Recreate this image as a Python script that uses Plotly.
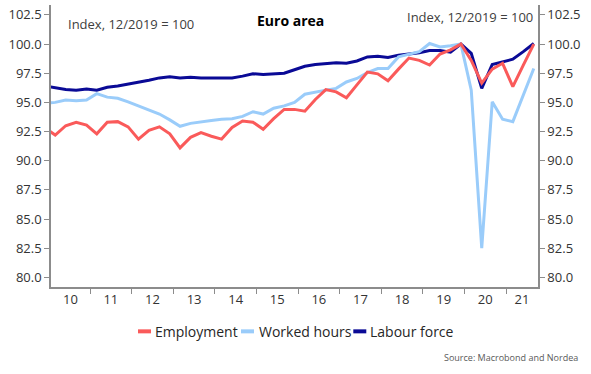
import pandas as pd
import plotly.graph_objects as go

# ---------------- data ----------------
quarters = [str(p) for p in pd.period_range("2009Q4", "2021Q3", freq="Q")]

employment = [92.8, 92.2, 93.0, 93.3, 93.05, 92.3, 93.3, 93.35, 92.9, 91.85,
              92.6, 92.9, 92.3, 91.1, 92.0, 92.4, 92.1, 91.85, 92.85, 93.4,
              93.3, 92.7, 93.6, 94.4, 94.4, 94.25, 95.25, 96.1, 95.9, 95.4,
              96.5, 97.6, 97.45, 96.85, 97.85, 98.8, 98.6, 98.2, 99.15, 99.5,
              100.0, 98.6, 96.65, 97.85, 98.35, 96.35, 98.2, 100.0]

worked_hours = [94.9, 95.0, 95.2, 95.15, 95.2, 95.75, 95.45, 95.35, 95.05, 94.7,
                94.3, 94.0, 93.5, 92.95, 93.2, 93.35, 93.45, 93.55, 93.6, 93.8,
                94.2, 94.0, 94.5, 94.7, 95.0, 95.7, 95.9, 96.05, 96.2, 96.75,
                97.05, 97.55, 97.9, 97.9, 98.9, 99.15, 99.35, 100.05, 99.75, 99.85,
                100.0, 96.05, 82.5, 95.05, 93.55, 93.35, 95.6, 97.9]

labour_force = [96.4, 96.25, 96.1, 96.05, 96.15, 96.05, 96.3, 96.4, 96.55, 96.7,
                96.9, 97.1, 97.2, 97.1, 97.15, 97.1, 97.1, 97.05, 97.1, 97.25,
                97.45, 97.4, 97.45, 97.5, 97.8, 98.1, 98.25, 98.35, 98.4, 98.35,
                98.55, 98.9, 98.95, 98.85, 99.05, 99.15, 99.25, 99.45, 99.45, 99.3,
                100.0, 99.2, 96.2, 98.25, 98.45, 98.7, 99.35, 100.05]

series_names = ["Employment", "Worked hours", "Labour force"]
years = list(range(2010, 2022))
year_labels = ["10", "11", "12", "13", "14", "15", "16", "17", "18", "19", "20", "21"]
y_ticks = [80.0, 82.5, 85.0, 87.5, 90.0, 92.5, 95.0, 97.5, 100.0, 102.5]

# ---------------- styling ----------------
FONT = "Open Sans"
RED = "#FA5A5A"
LIGHT = "#9ACCFA"
NAVY = "#0A0A96"
AXIS = "#8C8C8C"
TXT = "#404040"

W, H = 591, 374
PL, PR, PT, PB = 51, 538, 5, 286.7   # plot area in pixels


def px(x):
    return (x - PL) / (PR - PL)


def py(y):
    return (PB - y) / (PB - PT)


dates = [pd.Period(q, freq="Q").start_time + pd.DateOffset(months=2) for q in quarters]
x_start = pd.Timestamp("2010-01-23")
x_end = pd.Timestamp("2021-10-08")

# label at centre of the visible part of each year, tick marks at year boundaries
label_pos = []
for yr in years:
    lo = max(pd.Timestamp(f"{yr}-01-01"), x_start)
    hi = min(pd.Timestamp(f"{yr + 1}-01-01"), x_end)
    label_pos.append(lo + (hi - lo) / 2)
boundaries = [pd.Timestamp(f"{yr}-01-01") for yr in years[1:]]

fig = go.Figure()
for name, vals, col, ax in [(series_names[2], labour_force, NAVY, "y"),
                            (series_names[1], worked_hours, LIGHT, "y"),
                            (series_names[0], employment, RED, "y2")]:
    fig.add_trace(go.Scatter(x=dates, y=vals, name=name, mode="lines", yaxis=ax,
                             line=dict(color=col, width=3), showlegend=False))

yaxis_common = dict(range=[79.17, 103.35], tickvals=y_ticks,
                    ticktext=[f"{v:.1f}" for v in y_ticks],
                    ticks="outside", ticklen=5, tickcolor=AXIS, tickwidth=1,
                    showline=True, linecolor=AXIS, linewidth=1.5,
                    showgrid=False, zeroline=False,
                    tickfont=dict(family=FONT, size=13, color="#333333"))

fig.update_layout(
    width=W, height=H,
    margin=dict(l=PL, r=W - PR, t=PT, b=H - PB, autoexpand=False),
    paper_bgcolor="white", plot_bgcolor="white",
    font=dict(family=FONT, color=TXT),
    xaxis=dict(range=[x_start, x_end], type="date",
               tickvals=label_pos, ticktext=year_labels, ticks="",
               minor=dict(tickvals=boundaries, ticks="outside", ticklen=5,
                          tickcolor=AXIS, tickwidth=1, showgrid=False),
               showline=True, linecolor=AXIS, linewidth=1.5, showgrid=False,
               zeroline=False,
               tickfont=dict(family=FONT, size=13, color="#333333")),
    yaxis=dict(side="left", **yaxis_common),
    yaxis2=dict(side="right", overlaying="y", anchor="x", **yaxis_common),
)

annotations = [
    dict(text="<b>Euro area</b>", x=px(290.5), y=py(20), xanchor="center", yanchor="middle",
         font=dict(family=FONT, size=14, color="#000000")),
    dict(text="Index, 12/2019 = 100", x=px(66), y=py(24), xanchor="left", yanchor="middle",
         font=dict(family=FONT, size=13, color=TXT)),
    dict(text="Index, 12/2019 = 100", x=px(534.5), y=py(17.3), xanchor="right", yanchor="middle",
         font=dict(family=FONT, size=13, color=TXT)),
    dict(text="Source: Macrobond and Nordea", x=px(580), y=py(356.7), xanchor="right",
         yanchor="middle", font=dict(family=FONT, size=9, color="#595959")),
]

# manual legend
legend_items = [(series_names[0], RED, 138, 153), (series_names[1], LIGHT, 241, 256.5),
                (series_names[2], NAVY, 353.3, 368.3)]
shapes = []
for name, col, sx, tx in legend_items:
    shapes.append(dict(type="line", xref="paper", yref="paper", x0=px(sx), x1=px(sx + 13),
                       y0=py(331), y1=py(331), line=dict(color=col, width=4)))
    annotations.append(dict(text=name, x=px(tx), y=py(331), xanchor="left", yanchor="middle",
                            font=dict(family=FONT, size=14, color="#262626")))

for a in annotations:
    a.update(xref="paper", yref="paper", showarrow=False)
fig.update_layout(annotations=annotations, shapes=shapes)

fig.write_html("out.html", config={"displayModeBar": False},
               post_script="document.body.style.margin='0px';document.body.style.overflow='hidden';")
